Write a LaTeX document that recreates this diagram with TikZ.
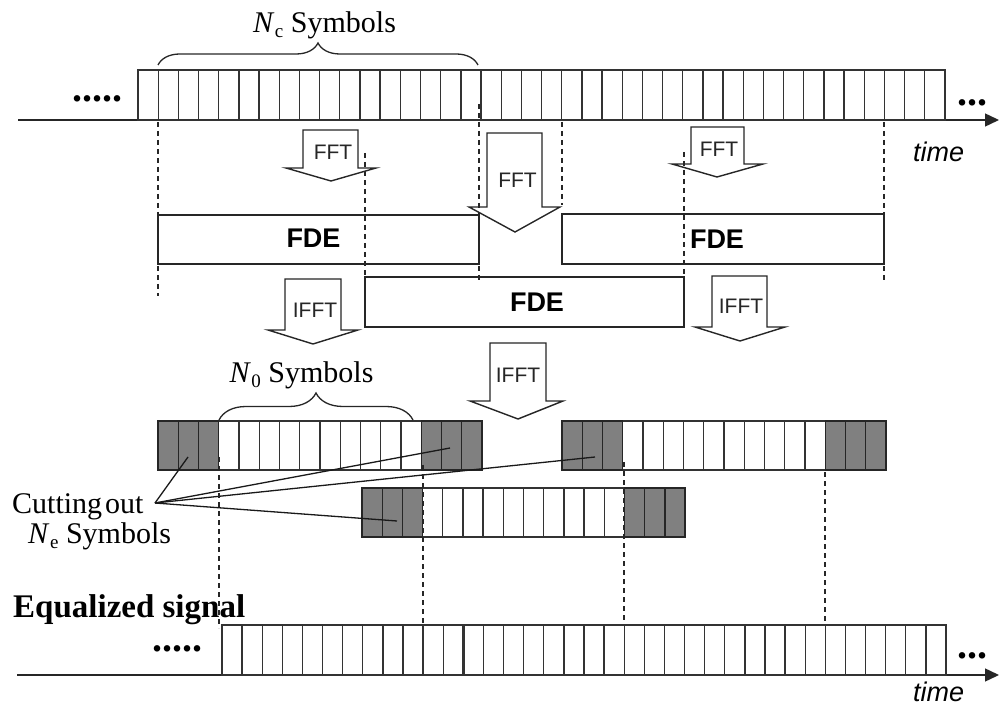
\documentclass[tikz,border=0pt]{standalone}
\usepackage{fontspec}
\setmainfont{Liberation Serif}
\setsansfont{Liberation Sans}
\usetikzlibrary{decorations.pathreplacing,arrows.meta}
\newcommand\Nsub[1]{\textit{N}\kern0.5pt\raisebox{-5pt}{\fontsize{19}{19}\selectfont #1}}
\tikzset{
  axisline/.style={draw=black!85, line width=1.4pt, -{Triangle[length=14pt,width=13pt]}},
  plainaxis/.style={draw=black!85, line width=1.4pt},
  cell/.style={draw=black!80, line width=1.3pt},
  graycell/.style={draw=black!85, fill=black!50, line width=1.3pt},
  guide/.style={draw=black!85, line width=1.2pt, dash pattern=on 5pt off 4pt},
  blockarr/.style={draw=black!85, fill=white, line width=1.4pt, line join=miter},
  fdebox/.style={draw=black!85, line width=1.4pt, inner sep=0},
  fdelabel/.style={font=\sffamily\bfseries\fontsize{27}{27}\selectfont, inner sep=0},
  opname/.style={font=\sffamily\fontsize{21}{21}\selectfont, inner sep=0, text=black!85},
  symlabel/.style={font=\fontsize{30}{30}\selectfont, inner sep=0},
  dotlabel/.style={font=\bfseries\fontsize{40}{40}\selectfont, inner sep=0, anchor=base west},
  timelabel/.style={font=\sffamily\itshape\fontsize{27}{27}\selectfont, inner sep=0, anchor=base west},
  bracedec/.style={draw=black!85, line width=1.3pt, decorate, decoration={brace, amplitude=#1}},
  cutline/.style={draw=black!90, line width=1.3pt}
}
\begin{document}
\begin{tikzpicture}[x=1pt,y=-1pt]
\useasboundingbox (0,0) rectangle (999,708);

% ---------- top received signal ----------
\draw[axisline] (18,120) -- (999,120);
\draw[cell] (138,70) rectangle (945,120);
\foreach \i in {1,...,39} \draw[cell] ({138+\i*20.175},70) -- ({138+\i*20.175},120);
\draw[cell, line width=2.4pt] ({138+16*20.175},70) -- ({138+16*20.175},120);
\node[dotlabel] (dotsTL) at (72,102) {.....};
\node[dotlabel] (dotsTR) at (957,106) {...};
\node[timelabel] (timeT) at (913,162) {time};

\draw[bracedec=22pt] (158,65) -- (478,65);
\node[symlabel, anchor=base] (nclabel) at (324.5,33) {\Nsub{c} Symbols};

% ---------- block arrows ----------
\draw[blockarr] (303,130) -- (358,130) -- (358,168) -- (376,168) -- (331,181) -- (286,168) -- (303,168) -- cycle;
\node[opname] (fft1) at (333,152.5) {FFT};
\draw[blockarr] (487,133) -- (542,133) -- (542,207) -- (560,207) -- (515,232) -- (469,207) -- (487,207) -- cycle;
\node[opname] (fft2) at (517.5,180.5) {FFT};
\draw[blockarr] (691,127) -- (744,127) -- (744,164) -- (763,164) -- (717,177) -- (672,164) -- (691,164) -- cycle;
\node[opname] (fft3) at (719,149.5) {FFT};

\draw[blockarr] (285,279) -- (341,279) -- (341,330) -- (358,330) -- (313,344) -- (268,330) -- (285,330) -- cycle;
\node[opname] (ifft1) at (315,310.5) {IFFT};
\draw[blockarr] (490,343) -- (546,343) -- (546,401) -- (563,401) -- (518,419) -- (470,401) -- (490,401) -- cycle;
\node[opname] (ifft2) at (518,375) {IFFT};
\draw[blockarr] (712,276) -- (767,276) -- (767,327) -- (785,327) -- (740,341) -- (695,327) -- (712,327) -- cycle;
\node[opname] (ifft3) at (741,306) {IFFT};

% ---------- FDE boxes ----------
\node[fdebox, minimum width=321pt, minimum height=49pt] (fdeA) at (318.5,239.5) {};
\node[fdelabel] (fdeAl) at (313.5,238.5) {FDE};
\node[fdebox, minimum width=322pt, minimum height=50pt] (fdeB) at (723,239) {};
\node[fdelabel] (fdeBl) at (717,239) {FDE};
\node[fdebox, minimum width=319pt, minimum height=50pt] (fdeC) at (524.5,302) {};
\node[fdelabel] (fdeCl) at (537,302.5) {FDE};

% ---------- dashed guides (upper) ----------
\draw[guide] (158,122) -- (158,296);
\draw[guide] (365,153) -- (365,277);
\draw[guide] (479,104) -- (479,280);
\draw[guide] (562,122) -- (562,205);
\draw[guide] (684,152) -- (684,277);
\draw[guide] (884,122) -- (884,280);

% ---------- equalized blocks ----------
\foreach \x/\y/\w in {158/421/20.25, 562/421/20.25, 362/488/20.19}{
  \foreach \i in {3,...,12} \draw[cell] ({\x+\i*\w},\y) rectangle ({\x+(\i+1)*\w},\y+49);
  \foreach \i in {0,1,2,13,14,15} \draw[graycell] ({\x+\i*\w},\y) rectangle ({\x+(\i+1)*\w},\y+49);
}
\draw[bracedec=27pt] (219,420) -- (413,420);
\node[symlabel, anchor=base] (n0label) at (301.5,383) {\Nsub{0} Symbols};

% ---------- cutting out labels ----------
\node[symlabel, anchor=base west] (cutlabel) at (12,513) {Cutting\kern3pt out};
\node[symlabel, anchor=base west] (nelabel) at (28,543) {\Nsub{e} Symbols};
\coordinate (cutsrc) at (155,503);
\coordinate (cutA) at (188,457);
\coordinate (cutB) at (450,448);
\coordinate (cutC) at (595,457);
\coordinate (cutD) at (397,521);
\foreach \t in {cutA,cutB,cutC,cutD} \draw[cutline] (cutsrc) -- (\t);

% ---------- dashed guides (lower) ----------
\draw[guide] (219,457) -- (219,628);
\draw[guide] (423,465) -- (423,625);
\draw[guide] (624,462) -- (624,625);
\draw[guide] (825,472) -- (825,625);

% ---------- equalized signal ----------
\node[font=\bfseries\fontsize{33}{33}\selectfont, inner sep=0, anchor=base west] (eqlabel) at (13,617) {Equalized signal};
\draw[axisline] (17,675) -- (999,675);
\draw[cell] (222,625) rectangle (946,675);
\foreach \i in {1,...,35} \draw[cell] ({222+\i*20.111},625) -- ({222+\i*20.111},675);
\draw[cell, line width=2.4pt] ({222+12*20.111},625) -- ({222+12*20.111},675);
\node[dotlabel] (dotsBL) at (152,651) {.....};
\node[dotlabel] (dotsBR) at (957,658) {...};
\node[timelabel] (timeB) at (913,701) {time};
\end{tikzpicture}
\end{document}
